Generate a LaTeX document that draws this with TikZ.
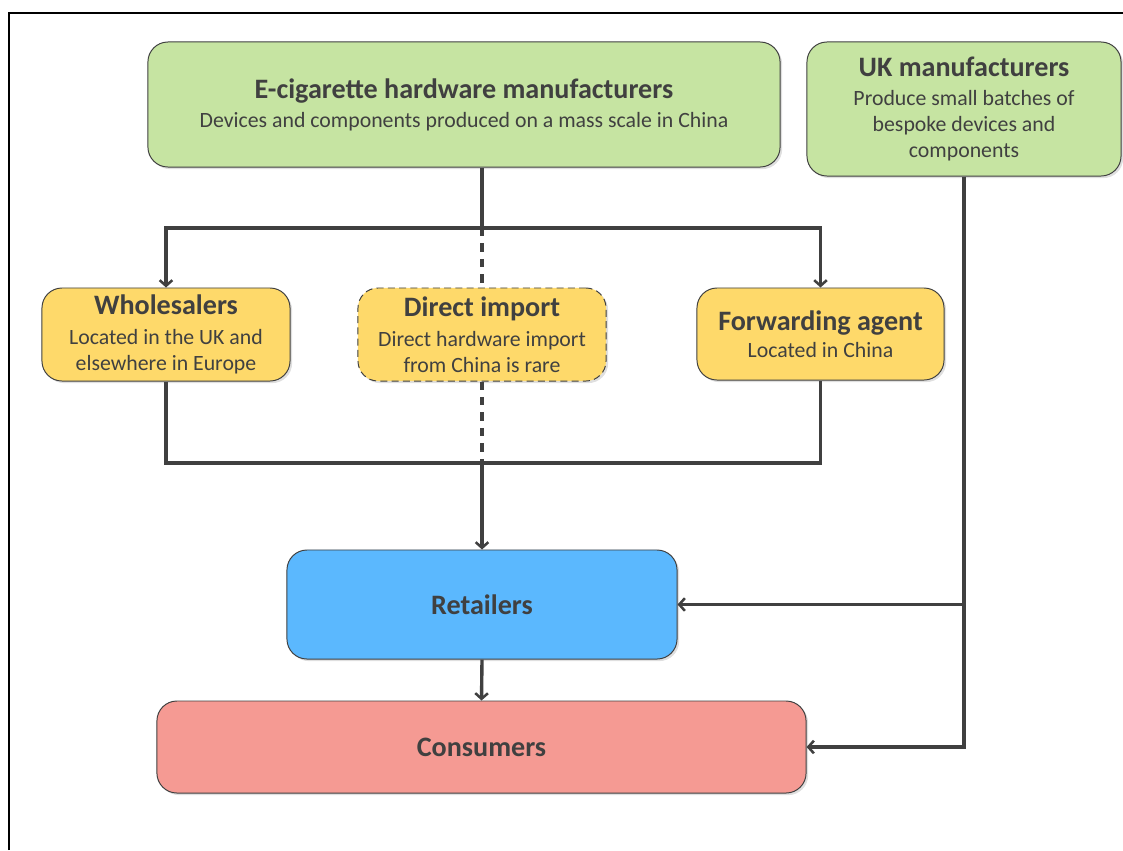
\documentclass[tikz,border=0pt]{standalone}
\usepackage{fontspec}
\setmainfont{Carlito}
\usetikzlibrary{arrows.meta,shadows}
\definecolor{ink}{HTML}{404040}
\definecolor{leaf}{HTML}{C6E4A2}
\definecolor{sand}{HTML}{FED96A}
\definecolor{sky}{HTML}{5BB8FE}
\definecolor{coral}{HTML}{F59A93}
\newcommand{\hd}[1]{{\fontsize{20}{22}\selectfont\bfseries #1}}

\begin{document}
\begin{tikzpicture}[x=0.025cm, y=-0.025cm,
    box/.style={draw=ink, line width=0.7pt, rounded corners=0.5cm, align=center, text=ink,
        font=\fontsize{15.5}{18.5}\selectfont, inner sep=2pt,
        drop shadow={opacity=0.25, shadow xshift=1.5pt, shadow yshift=-1.5pt}},
    wire/.style={draw=ink, line width=2.4pt},
    link/.style={wire, -{Straight Barb[length=4pt, width=9pt, line width=1.8pt]}}]
    \useasboundingbox (0,0) rectangle (1123,850);
    \draw[line width=1.2pt] (9,850) -- (9,13) -- (1123,13);

    % suppliers
    \node[box, fill=leaf, minimum width=15.8cm, minimum height=3.125cm] (maker) at (464,104.5)
        {\hd{E-cigarette hardware manufacturers}\\[2pt]Devices and components produced on a mass scale in China};
    \node[box, fill=leaf, minimum width=7.85cm, minimum height=3.35cm] (uk) at (964,109)
        {\hd{UK manufacturers}\\[2pt]Produce small batches of\\bespoke devices and\\components};

    % middle tier
    \node[box, fill=sand, minimum width=6.2cm, minimum height=2.325cm] (whole) at (166,334.5)
        {\hd{Wholesalers}\\[3pt]Located in the UK and\\elsewhere in Europe};
    \node[box, fill=sand, dashed, dash pattern=on 5pt off 3pt, minimum width=6.2cm, minimum height=2.325cm] (direct) at (482,334.5)
        {\hd{Direct import}\\[3pt]Direct hardware import\\from China is rare};
    \node[box, fill=sand, minimum width=6.175cm, minimum height=2.3cm] (fwd) at (820.5,334)
        {\hd{Forwarding agent}\\[1pt]Located in China};

    % sellers
    \node[box, fill=sky, minimum width=9.75cm, minimum height=2.725cm] (retail) at (482,604.5) {\hd{Retailers}};
    \node[box, fill=coral, minimum width=16.225cm, minimum height=2.3cm] (cons) at (481.5,747) {\hd{Consumers}};

    \coordinate (split) at (482,228);
    \coordinate (merge) at (482,463);
    \coordinate (bend) at (964,604.5);

    \draw[wire, line width=3pt] (maker.south -| direct) -- (split);
    \draw[link] (split) -| (whole.north);
    \draw[link] (split) -| (fwd.north);
    \draw[wire, dash pattern=on 6pt off 5pt] (split) -- (direct.north);
    \draw[wire, dash pattern=on 6pt off 5pt] (direct.south) -- (merge);
    \draw[wire] (whole.south) -- (whole.south |- merge) -- (fwd.south |- merge) -- (fwd.south);
    \draw[link] (merge) -- (retail.north);
    \draw[link] (retail.south) -- (cons.north);
    \draw[link] (uk.south) |- (cons.east);
    \draw[link] (bend) -- (retail.east);
\end{tikzpicture}
\end{document}
